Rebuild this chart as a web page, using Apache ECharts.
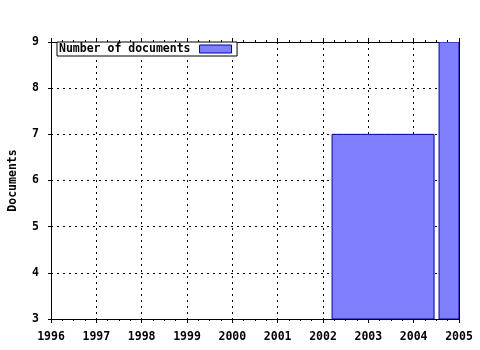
<!DOCTYPE html>
<html><head><meta charset="utf-8">
<script src="https://cdn.jsdelivr.net/npm/echarts@6/dist/echarts.min.js"></script>
<style>html,body{margin:0;padding:0;background:#fff}#c{width:480px;height:350px}</style>
</head><body><div id="c"></div>
<script>
const seriesName = 'Number of documents';
const binStart = [2002.2, 2004.56];
const binEnd = [2004.45, 2005];
const counts = [7, 9];
const xTicks = [1996, 1997, 1998, 1999, 2000, 2001, 2002, 2003, 2004, 2005];
const yTicks = [3, 4, 5, 6, 7, 8, 9];

const FONT = 'DejaVu Sans Mono';
const chart = echarts.init(document.getElementById('c'), null, {renderer: 'canvas'});
const data = counts.map((v, i) => [binStart[i], binEnd[i], v]);
const yMin = yTicks[0];

const xCommon = {
  type: 'value', min: xTicks[0], max: xTicks[xTicks.length - 1], interval: 1,
  axisLine: {show: true, onZero: false, lineStyle: {color: '#000', width: 1}},
  axisTick: {show: true, length: 4, lineStyle: {color: '#000'}},
  minorTick: {show: true, splitNumber: 4, length: 2, lineStyle: {color: '#000'}},
};

chart.setOption({
  animation: false,
  grid: {left: 51, right: 21, top: 42, bottom: 31, containLabel: false, outerBoundsMode: 'none'},
  legend: {
    left: 57, top: 42, align: 'right', orient: 'horizontal',
    padding: [1, 5, 1, 2], borderColor: '#000', borderWidth: 1, backgroundColor: '#fff',
    itemWidth: 32, itemHeight: 8, itemGap: 6,
    icon: 'rect',
    textStyle: {fontFamily: FONT, fontWeight: 'bold', fontSize: 11.5, color: '#000', padding: [0, 4, 0, 0]},
    data: [{name: seriesName, itemStyle: {color: '#8080ff', borderColor: '#0000a0', borderWidth: 1}}]
  },
  xAxis: [
    Object.assign({}, xCommon, {
      position: 'bottom',
      axisLabel: {color: '#000', fontFamily: FONT, fontWeight: 'bold', fontSize: 11.5, margin: 12,
        formatter: v => xTicks.includes(v) ? String(v) : ''},
      splitLine: {show: true, lineStyle: {color: '#000', type: [2, 4], width: 1}}
    }),
    Object.assign({}, xCommon, {
      position: 'top',
      axisLabel: {show: false},
      splitLine: {show: false}
    })
  ],
  yAxis: [
    {
      type: 'value', min: yTicks[0], max: yTicks[yTicks.length - 1], interval: 1,
      name: 'Documents', nameLocation: 'middle', nameGap: 32, nameRotate: 90,
      nameTextStyle: {fontFamily: FONT, fontWeight: 'bold', fontSize: 11.5, color: '#000'},
      axisLine: {show: true, lineStyle: {color: '#000'}},
      axisTick: {show: true, length: 3, lineStyle: {color: '#000'}},
      axisLabel: {color: '#000', fontFamily: FONT, fontWeight: 'bold', fontSize: 11.5, margin: 12},
      splitLine: {show: true, lineStyle: {color: '#000', type: [2, 4], width: 1}}
    },
    {
      type: 'value', min: yTicks[0], max: yTicks[yTicks.length - 1], interval: 1, position: 'right',
      axisLine: {show: true, lineStyle: {color: '#000'}},
      axisTick: {show: false}, axisLabel: {show: false}, splitLine: {show: false}
    }
  ],
  series: [{
    name: seriesName,
    type: 'custom',
    clip: true,
    xAxisIndex: 0, yAxisIndex: 0,
    encode: {x: [0, 1], y: 2},
    itemStyle: {color: '#8080ff', borderColor: '#0000a0', borderWidth: 1},
    renderItem: function (params, api) {
      const p1 = api.coord([api.value(0), api.value(2)]);
      const p2 = api.coord([api.value(1), yMin]);
      return {
        type: 'rect',
        shape: {x: p1[0], y: p1[1], width: p2[0] - p1[0], height: p2[1] - p1[1]},
        style: {fill: '#8080ff', stroke: '#0000a0', lineWidth: 1}
      };
    },
    data: data,
    z: 5
  }]
});
</script></body></html>
